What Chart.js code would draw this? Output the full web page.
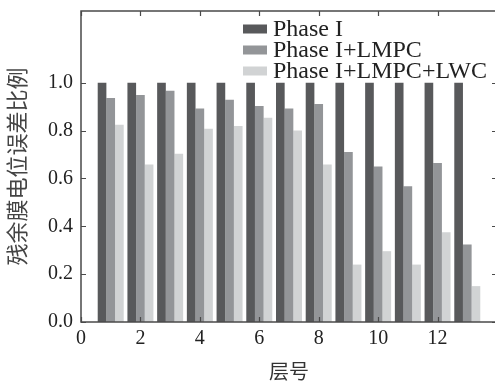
<!DOCTYPE html>
<html>
<head>
<meta charset="utf-8">
<script src="https://cdn.jsdelivr.net/npm/chart.js@4"></script>
<style>
    html, body { margin: 0; padding: 0; background: #fff; overflow: hidden; }
    #wrap { width: 497px; height: 383px; }
</style>
</head>
<body>
<div id="wrap"><canvas id="chart"></canvas></div>
<script>
// layer numbers and the three series
const layers = [1, 2, 3, 4, 5, 6, 7, 8, 9, 10, 11, 12, 13];
const phase1 = [1, 1, 1, 1, 1, 1, 1, 1, 1, 1, 1, 1, 1];
const phase1Lmpc = [0.936, 0.949, 0.967, 0.892, 0.929, 0.903, 0.892, 0.911, 0.711, 0.650, 0.567, 0.665, 0.324];
const phase1LmpcLwc = [0.824, 0.658, 0.703, 0.808, 0.819, 0.854, 0.800, 0.658, 0.240, 0.296, 0.240, 0.375, 0.150];

const xTicks = [0, 2, 4, 6, 8, 10, 12];
const yTicks = [0, 0.2, 0.4, 0.6, 0.8, 1.0];

const seriesLabels = ['Phase I', 'Phase I+LMPC', 'Phase I+LMPC+LWC'];
const seriesColors = ['#58595b', '#939598', '#d1d3d4'];

const serif = '"Liberation Serif", "Times New Roman", serif';
const axisColor = '#4a4a4a';

function toPoints(values) {
    return layers.map((x, i) => ({ x: x, y: values[i] }));
}

// frame, inward tick marks on all four sides, legend inside the plot
const framePlugin = {
    id: 'frame',
    afterDatasetsDraw(chart) {
        const { ctx, chartArea: a, scales } = chart;
        const len = 5;
        ctx.save();
        ctx.strokeStyle = axisColor;
        ctx.lineWidth = 1.5;
        ctx.strokeRect(a.left, a.top, a.right - a.left, a.bottom - a.top);

        ctx.lineWidth = 1.2;
        ctx.beginPath();
        xTicks.forEach(v => {
            const px = Math.round(scales.x.getPixelForValue(v)) + 0.5;
            ctx.moveTo(px, a.bottom); ctx.lineTo(px, a.bottom - len);
            ctx.moveTo(px, a.top); ctx.lineTo(px, a.top + len);
        });
        yTicks.forEach(v => {
            const py = Math.round(scales.y.getPixelForValue(v)) + 0.5;
            ctx.moveTo(a.left, py); ctx.lineTo(a.left + len, py);
            ctx.moveTo(a.right, py); ctx.lineTo(a.right - len, py);
        });
        ctx.stroke();

        // legend
        const boxX = 243, boxW = 24, boxH = 9;
        const rowY = [29, 50, 71];
        ctx.font = '24px ' + serif;
        ctx.textBaseline = 'middle';
        chart.data.datasets.forEach((ds, i) => {
            ctx.fillStyle = ds.backgroundColor;
            ctx.fillRect(boxX, rowY[i] - boxH / 2, boxW, boxH);
            ctx.fillStyle = '#222';
            ctx.fillText(ds.label, boxX + boxW + 6, rowY[i] + 1);
        });
        ctx.restore();
    }
};

const ctx = document.getElementById('chart').getContext('2d');
new Chart(ctx, {
    type: 'bar',
    data: {
        datasets: [
            { label: seriesLabels[0], data: toPoints(phase1), backgroundColor: seriesColors[0] },
            { label: seriesLabels[1], data: toPoints(phase1Lmpc), backgroundColor: seriesColors[1] },
            { label: seriesLabels[2], data: toPoints(phase1LmpcLwc), backgroundColor: seriesColors[2] }
        ]
    },
    options: {
        responsive: true,
        maintainAspectRatio: false,
        animation: false,
        devicePixelRatio: 1,
        layout: { padding: { top: 11, right: 0, left: 0, bottom: 0 } },
        datasets: {
            bar: { categoryPercentage: 0.875, barPercentage: 1.0, borderWidth: 0 }
        },
        plugins: {
            legend: { display: false },
            tooltip: { enabled: false }
        },
        scales: {
            x: {
                type: 'linear',
                min: 0,
                max: 14,
                offset: false,
                grid: { display: false, drawTicks: false },
                border: { display: false },
                afterBuildTicks: s => { s.ticks = xTicks.map(v => ({ value: v })); },
                afterFit: s => { s.height = 61; s.paddingLeft = 0; s.paddingRight = 0; },
                ticks: {
                    padding: 5,
                    maxRotation: 0,
                    color: '#222',
                    font: { family: serif, size: 20 },
                    callback: v => String(v)
                },
                title: {
                    display: true,
                    text: '层号',
                    color: '#333',
                    padding: { top: 0, bottom: 0 },
                    font: { family: '"Noto Sans CJK SC", sans-serif', size: 20 }
                }
            },
            y: {
                min: 0,
                max: 1.3,
                grid: { display: false, drawTicks: false },
                border: { display: false },
                afterBuildTicks: s => { s.ticks = yTicks.map(v => ({ value: v })); },
                afterFit: s => { s.width = 81; s.paddingTop = 0; s.paddingBottom = 0; },
                ticks: {
                    padding: 8,
                    color: '#222',
                    font: { family: serif, size: 20 },
                    callback: v => Number(v).toFixed(1)
                },
                title: {
                    display: true,
                    text: '残余膜电位误差比例',
                    color: '#444',
                    padding: { top: 3, bottom: 0 },
                    font: { family: '"Noto Sans CJK SC", sans-serif', size: 22 }
                }
            }
        }
    },
    plugins: [framePlugin]
});
</script>
</body>
</html>
